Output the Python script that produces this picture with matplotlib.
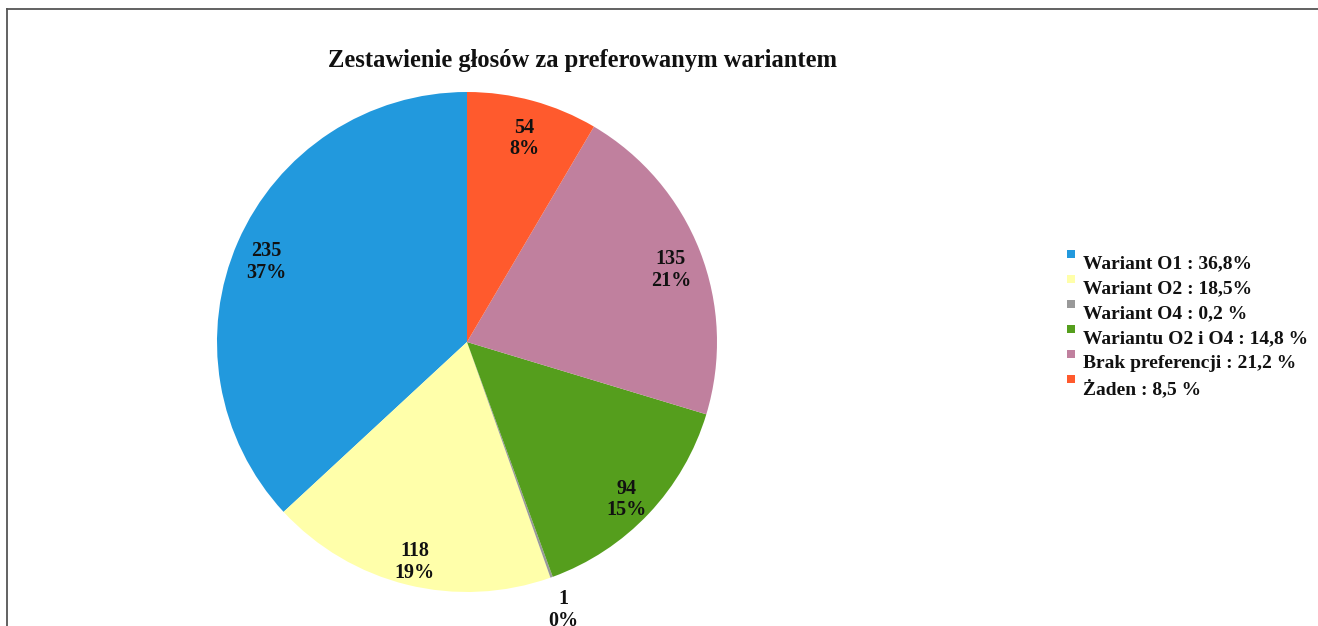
import numpy as np
import matplotlib
matplotlib.use("Agg")
import matplotlib.pyplot as plt
from matplotlib.patches import Rectangle
from matplotlib.lines import Line2D

categories = ["Wariant O1", "Wariant O2", "Wariant O4", "Wariantu O2 i O4", "Brak preferencji", "Żaden"]
values = [235, 118, 1, 94, 135, 54]
legend_labels = ["Wariant O1 : 36,8%", "Wariant O2 : 18,5%", "Wariant O4 : 0,2 %",
                 "Wariantu O2 i O4 : 14,8 %", "Brak preferencji : 21,2 %", "Żaden : 8,5 %"]
colors = ["#2299DD", "#FFFFAA", "#999999", "#559E1D", "#C0809E", "#FF5A2D"]
title = "Zestawienie głosów za preferowanym wariantem"

W, H = 1318, 626
fig = plt.figure(figsize=(W / 100, H / 100), dpi=100)
plt.rcParams['font.family'] = ['Liberation Serif', 'DejaVu Serif']
txtc = "#111111"

cx, cy, R = 467, 342, 250
ax = fig.add_axes([(cx - R) / W, (H - cy - R) / H, 2 * R / W, 2 * R / H])
wedges, _ = ax.pie(values, colors=colors, startangle=90, counterclock=True,
                   radius=1.0, wedgeprops=dict(linewidth=0))
ax.set_xlim(-1, 1)
ax.set_ylim(-1, 1)
ax.set_aspect('equal')
ax.axis('off')

total = sum(values)
cum = 0
for v in values:
    mid = 90 + (cum + v / 2) / total * 360
    cum += v
    frac = v / total
    r = 0.875 if frac > 0.01 else 1.14
    x, y = r * np.cos(np.radians(mid)), r * np.sin(np.radians(mid))
    if frac > 0.01:
        y -= 0.03
    ax.text(x, y, f"{v}\n{round(frac * 100):.0f}%", ha='center', va='center',
            fontsize=14.5, fontweight='bold', color=txtc, linespacing=1.1, clip_on=False)

fig.text(583 / W, 1 - 61 / H, title, ha='center', va='center', fontsize=17.7,
         fontweight='bold', color=txtc)

# legend
y0 = 264
dy = 25.0
for i, (lab, col) in enumerate(zip(legend_labels, colors)):
    yc = y0 + i * dy
    fig.patches.append(Rectangle(((1067) / W, 1 - (yc - 6) / H), 8 / W, 8 / H,
                                 transform=fig.transFigure, facecolor=col, edgecolor='none'))
    fig.text(1083 / W, 1 - yc / H, lab, ha='left', va='center', fontsize=14,
             fontweight='bold', color=txtc)

# border
fig.lines.append(Line2D([7 / W, 1.0], [1 - 9 / H, 1 - 9 / H], transform=fig.transFigure,
                        color='#555555', linewidth=1.3))
fig.lines.append(Line2D([7 / W, 7 / W], [0, 1 - 9 / H], transform=fig.transFigure,
                        color='#555555', linewidth=1.3))

fig.savefig("out.png", dpi=100)
